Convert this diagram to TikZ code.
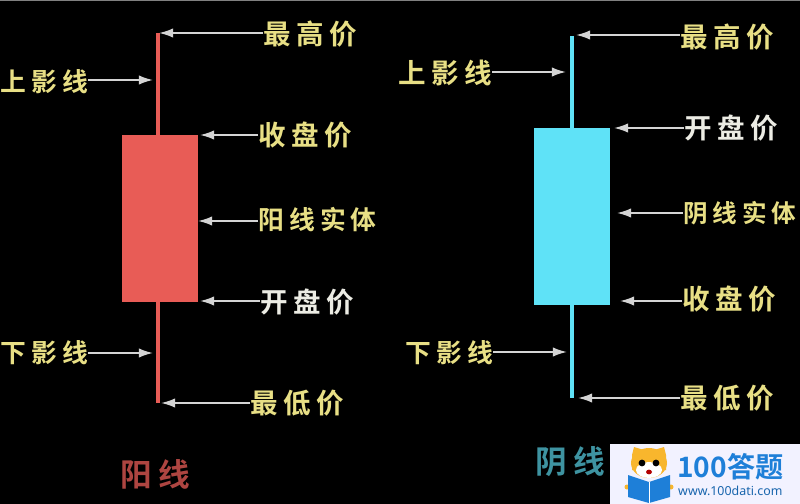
\documentclass[tikz,border=0pt]{standalone}
\usepackage{fontspec}
\setmainfont{Noto Sans}
\newfontfamily\cjk[LetterSpace=20]{Noto Sans CJK SC Bold}
\newfontfamily\cjkplain{Noto Sans CJK SC Bold}
\usetikzlibrary{arrows.meta}
\definecolor{bg}{HTML}{000000}
\definecolor{tag}{HTML}{E8DF85}
\definecolor{tagw}{HTML}{ECECE4}
\definecolor{pointer}{HTML}{D4D4D4}
\definecolor{upc}{HTML}{E85C56}
\definecolor{downc}{HTML}{5FE2F7}
\definecolor{logo}{HTML}{1E7FD8}
\definecolor{cat}{HTML}{F8B62D}
\tikzset{
  lab/.style={inner sep=0pt, anchor=west, text=tag, font=\cjk\fontsize{23.5}{24}\selectfont},
  labs/.style={lab, font=\cjk\fontsize{22}{24}\selectfont},
  labt/.style={lab, font=\cjk\fontsize{21}{24}\selectfont},
  point/.style={-{Latex[length=12pt,width=8pt]}, pointer, line width=1.5pt},
  body/.style={rectangle, inner sep=0pt, minimum width=2.28cm},
}
\begin{document}
\begin{tikzpicture}[x=0.03cm,y=-0.03cm]
  \fill[bg] (0,0) rectangle (800,504);
  \useasboundingbox (0,0) rectangle (800,504);
  \draw[gray, line width=1pt] (0,0) -- (800,0);
  % red candle
  \node[body, fill=upc, minimum height=5.01cm] (b1) at (160,218.5) {};
  \coordinate (t1) at (158,33);
  \coordinate (e1) at (158,403);
  \draw[upc, line width=3.4pt] (t1) -- (158,135);
  \draw[upc, line width=3.4pt] (158,302) -- (e1);
  \node[lab] (x1) at (263,34) {最高价};
  \node[labs] (x2) at (0,82) {上影线};
  \node[lab] (x3) at (258,135) {收盘价};
  \node[labs] (x4) at (258,220) {阳线实体};
  \node[lab, text=tagw] (x5) at (260,302) {开盘价};
  \node[labs] (x6) at (0,353) {下影线};
  \node[lab] (x7) at (250,403) {最低价};
  \node[lab, text=upc!75!black, font=\cjk\fontsize{27}{27}\selectfont] (x8) at (120,474) {阳线};
  \coordinate (p1) at (159,33);
  \coordinate (p2) at (153,80);
  \coordinate (p3) at (200,135);
  \coordinate (p4) at (198,221);
  \coordinate (p5) at (200,301);
  \coordinate (p6) at (153,353);
  \coordinate (p7) at (161,403);
  \draw[point] (x1.west |- p1) -- (p1);
  \draw[point] (x2.east |- p2) -- (p2);
  \draw[point] (x3.west |- p3) -- (p3);
  \draw[point] (x4.west |- p4) -- (p4);
  \draw[point] (x5.west |- p5) -- (p5);
  \draw[point] (x6.east |- p6) -- (p6);
  \draw[point] (x7.west |- p7) -- (p7);
  % blue candle
  \node[body, fill=downc, minimum height=5.31cm] (b2) at (572,216.5) {};
  \coordinate (t2) at (572,36);
  \coordinate (e2) at (572,398);
  \draw[downc, line width=3.4pt] (t2) -- (572,128);
  \draw[downc, line width=3.4pt] (572,305) -- (e2);
  \node[lab] (y1) at (680,37) {最高价};
  \node[lab] (y2) at (398,73) {上影线};
  \node[lab, text=tagw] (y3) at (684,128) {开盘价};
  \node[labt] (y4) at (683,213) {阴线实体};
  \node[lab] (y5) at (682,299) {收盘价};
  \node[labs] (y6) at (405,353) {下影线};
  \node[lab] (y7) at (680,398) {最低价};
  \node[lab, text=downc!65!black, font=\cjk\fontsize{27}{27}\selectfont] (y8) at (535,462) {阴线};
  \coordinate (q1) at (576,35);
  \coordinate (q2) at (566,72);
  \coordinate (q3) at (614,128);
  \coordinate (q4) at (617,213);
  \coordinate (q5) at (620,301);
  \coordinate (q6) at (567,352);
  \coordinate (q7) at (578,398);
  \draw[point] (y1.west |- q1) -- (q1);
  \draw[point] (y2.east |- q2) -- (q2);
  \draw[point] (y3.west |- q3) -- (q3);
  \draw[point] (y4.west |- q4) -- (q4);
  \draw[point] (y5.west |- q5) -- (q5);
  \draw[point] (y6.east |- q6) -- (q6);
  \draw[point] (y7.west |- q7) -- (q7);
  % badge
  \fill[white!95!blue] (610,444) rectangle (800,504);
  \fill[cat] (632,455) -- (634,447) -- (644,450) -- (654,450) -- (664,447) -- (666,455) -- (666,470) -- (632,470) -- cycle;
  \fill[cat] (649,463) ellipse (18 and 15);
  \fill[white] (649,470) ellipse (13 and 8);
  \fill[black] (642,463) circle (3.4);
  \fill[black] (656,463) circle (3.4);
  \fill[red!70!black] (649,472) ellipse (3 and 2.4);
  \fill[cat] (627,487) circle (2.5);
  \fill[cat] (671,487) circle (2.5);
  \fill[logo] (628,475) -- (649,482) -- (670,475) -- (670,497) -- (649,503) -- (628,497) -- cycle;
  \draw[white, line width=0.5pt] (649,482) -- (649,503);
  \node[inner sep=0pt, anchor=west, text=logo, font=\cjkplain\fontsize{24}{24}\selectfont] (n1) at (677,467) {100答题};
  \node[inner sep=0pt, anchor=west, text=logo!80!black, font=\fontsize{10.6}{11}\selectfont] (n2) at (678,491) {www.100dati.com};
\end{tikzpicture}
\end{document}
